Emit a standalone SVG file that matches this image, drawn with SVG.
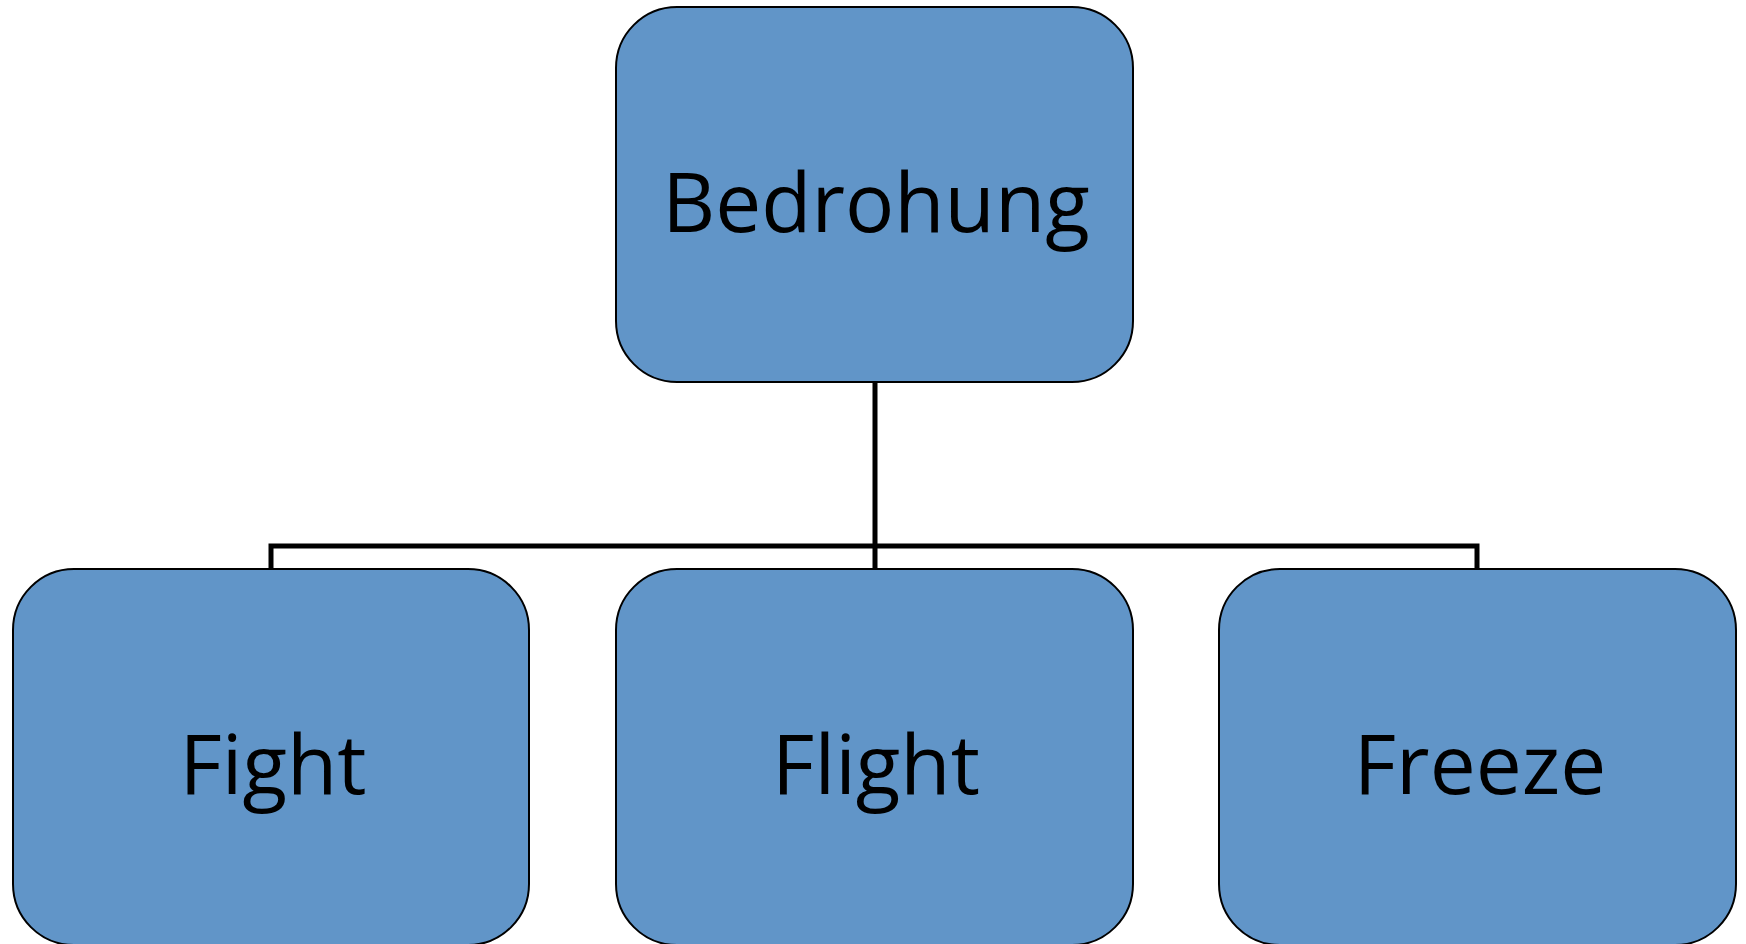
<svg xmlns="http://www.w3.org/2000/svg" width="1746" height="944" viewBox="0 0 1746 944">
<style>
.node{fill:#6195C8;stroke:#000;stroke-width:2}
.lbl{font-family:"Open Sans","Liberation Sans",sans-serif;font-size:82px;fill:#000;text-anchor:middle}
.conn{fill:none;stroke:#000;stroke-width:5}
</style>
<rect width="1746" height="944" fill="#fff"/>
<g id="connectors">
<path class="conn" d="M875,382 V546 M271,569 V546 H1477 V569 M875,546 V569"/>
</g>
<g id="node-bedrohung">
<rect class="node" x="616" y="7" width="517" height="375" rx="61" ry="61"/>
<text class="lbl" x="876" y="232">Bedrohung</text>
</g>
<g id="node-fight">
<rect class="node" x="13" y="569" width="516" height="376" rx="61" ry="61"/>
<text class="lbl" x="273" y="794">Fight</text>
</g>
<g id="node-flight">
<rect class="node" x="616" y="569" width="517" height="376" rx="61" ry="61"/>
<text class="lbl" x="876" y="794">Flight</text>
</g>
<g id="node-freeze">
<rect class="node" x="1219" y="569" width="517" height="376" rx="61" ry="61"/>
<text class="lbl" x="1480" y="794">Freeze</text>
</g>
</svg>
